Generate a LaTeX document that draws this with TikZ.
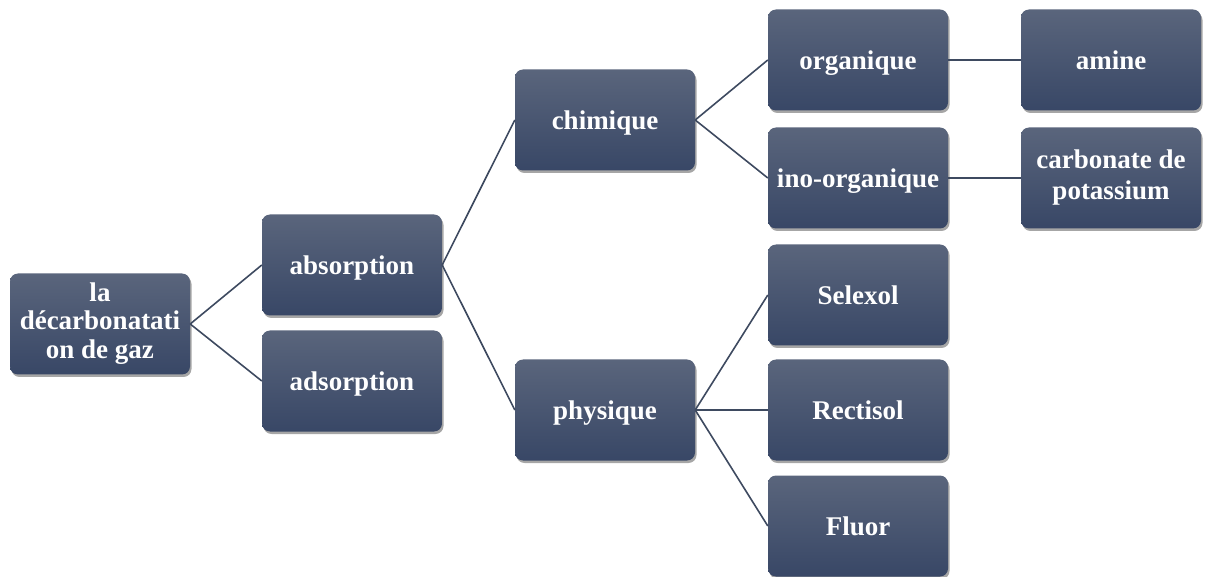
\documentclass[tikz,border=0pt]{standalone}
\usepackage{fontspec}
\setmainfont{Liberation Serif}
\usetikzlibrary{shadows}
\definecolor{boxtop}{RGB}{90,101,124}
\definecolor{boxbot}{RGB}{56,71,102}
\definecolor{linkc}{RGB}{62,74,96}
\begin{document}
\begin{tikzpicture}[x=1pt,y=-1pt,
  box/.style={rectangle, rounded corners=8pt, minimum width=180pt, minimum height=101pt,
    inner sep=0pt, top color=boxtop, bottom color=boxbot, draw=none,
    drop shadow={shadow xshift=1.5pt, shadow yshift=-2.5pt, opacity=0.35, fill=black},
    text=white, font=\fontsize{27}{31}\selectfont\bfseries, align=center},
  link/.style={draw=linkc, line width=1.6pt}]
\useasboundingbox (0,0) rectangle (1208,577);
\node[box] (root) at (100,324) {\raisebox{-3pt}{la}\\décarbonatati\\\raisebox{2pt}{on de gaz}};
\node[box, text depth=0pt] (abs) at (352,265) {absorption};
\node[box, text depth=0pt] (ads) at (352,381) {adsorption};
\node[box, text depth=0pt] (chim) at (605,120) {chimique};
\node[box, text depth=0pt] (phys) at (605,410) {physique};
\node[box, text depth=0pt] (org) at (858,60) {organique};
\node[box, text depth=0pt] (ino) at (858,178) {ino-organique};
\node[box, text depth=0pt] (sel) at (858,295) {Selexol};
\node[box, text depth=0pt] (rect) at (858,410) {Rectisol};
\node[box, text depth=0pt] (flu) at (858,526) {Fluor};
\node[box, text depth=0pt] (amine) at (1111,60) {amine};
\node[box] (carb) at (1111,178) {carbonate de\\potassium};
\draw[link] (root.east) -- (abs.west);
\draw[link] (root.east) -- (ads.west);
\draw[link] (abs.east) -- (chim.west);
\draw[link] (abs.east) -- (phys.west);
\draw[link] (chim.east) -- (org.west);
\draw[link] (chim.east) -- (ino.west);
\draw[link] (phys.east) -- (sel.west);
\draw[link] (phys.east) -- (rect.west);
\draw[link] (phys.east) -- (flu.west);
\draw[link] (org.east) -- (amine.west);
\draw[link] (ino.east) -- (carb.west);
\end{tikzpicture}
\end{document}
